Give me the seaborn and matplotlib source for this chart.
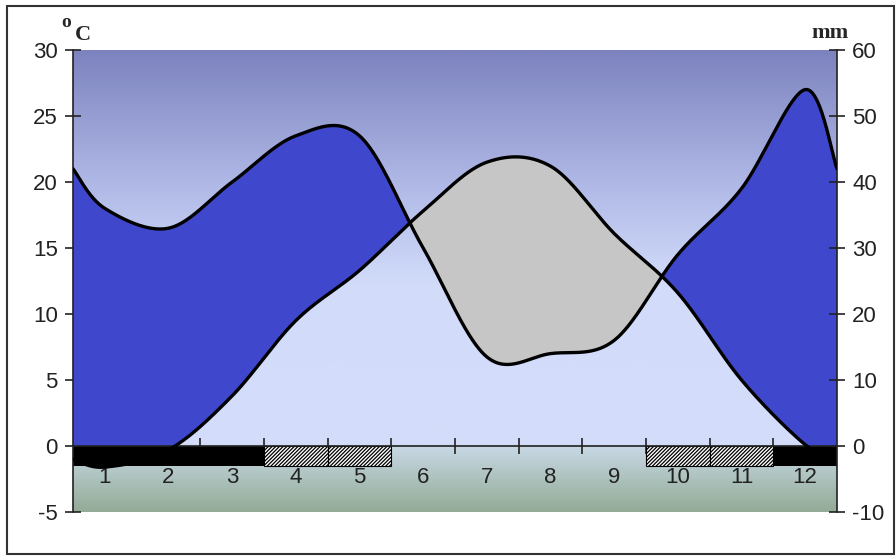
import numpy as np
import pandas as pd
import seaborn as sns
import matplotlib.pyplot as plt
from matplotlib.colors import LinearSegmentedColormap
from matplotlib.patches import Rectangle

# monthly climate values
months = list(range(1, 13))
temp_c = [-1.6, -0.3, 3.8, 9.5, 13.3, 17.8, 21.5, 21.2, 16.1, 11.6, 5.0, 0.1]
precip_mm = [36, 33, 40, 47, 47, 30, 13.5, 14, 16, 29, 39, 54]
# where the curves meet the left/right frame (month 0.5 / 12.5)
edge_temp_c = -1.0
edge_precip_mm = 42
# frost bar per month: 'sure' = black, 'likely' = hatched, '' = none
frost = ['sure', 'sure', 'sure', 'likely', 'likely', '', '', '', '', 'likely', 'likely', 'sure']
frost_depth = -1.5

temp_ticks = list(range(-5, 31, 5))
precip_ticks = list(range(-10, 61, 10))


def smooth(xs, ys, n=60):
    # catmull-rom style smoothing, like excel's smoothed line
    pts = np.column_stack([xs, ys]).astype(float)
    p = np.vstack([pts[0], pts, pts[-1]])
    t = np.linspace(0, 1, n, endpoint=False)[:, None]
    h00 = 2 * t**3 - 3 * t**2 + 1
    h10 = t**3 - 2 * t**2 + t
    h01 = -2 * t**3 + 3 * t**2
    h11 = t**3 - t**2
    out = []
    for i in range(1, len(p) - 2):
        p0, p1, p2, p3 = p[i - 1], p[i], p[i + 1], p[i + 2]
        out.append(h00 * p1 + h10 * (p2 - p0) / 2 + h01 * p2 + h11 * (p3 - p1) / 2)
    out.append(p[-2][None, :])
    return np.vstack(out)


xs = [0.5] + months + [12.5]
t_curve = smooth(xs, [edge_temp_c] + temp_c + [edge_temp_c])
p_curve = smooth(xs, [edge_precip_mm] + precip_mm + [edge_precip_mm])

grid = np.linspace(0.5, 12.5, 2000)
df = pd.DataFrame({
    'x': grid,
    'temp': np.interp(grid, t_curve[:, 0], t_curve[:, 1]),
    'precip': np.interp(grid, p_curve[:, 0], p_curve[:, 1]),
})
df['precip_half'] = df['precip'] / 2  # 10 mm = 5 degC

sns.set_style('white')
plt.rcParams['font.family'] = ['Liberation Sans', 'DejaVu Sans']
plt.rcParams['axes.unicode_minus'] = False
plt.rcParams['hatch.linewidth'] = 0.9
plt.rcParams['hatch.color'] = '#333333'

fig = plt.figure(figsize=(8.96, 5.56), dpi=100)
ax = fig.add_axes([73 / 896, 1 - 512 / 556, (837 - 73) / 896, (512 - 50) / 556])

# background gradient (sky above 0, ground below)
bg = LinearSegmentedColormap.from_list('bg', [
    (0.0, '#93ab97'),
    (0.1428, '#c9d9e6'),
    (0.1429, '#d4dcfa'),
    (0.49, '#d2dcfa'),
    (0.71, '#b0b9e6'),
    (1.0, '#7c83bf'),
])
yy = np.linspace(30, -5, 700)[:, None]
ax.imshow(yy, cmap=bg, vmin=-5, vmax=30, extent=[0.5, 12.5, -5, 30],
          aspect='auto', origin='upper', zorder=0)

# humid and arid periods
ax.fill_between(df['x'], df['temp'], df['precip_half'], where=df['precip_half'] >= df['temp'],
                color='#3f48cc', interpolate=True, lw=0, zorder=1.5)
ax.fill_between(df['x'], df['temp'], df['precip_half'], where=df['precip_half'] < df['temp'],
                color='#c6c6c6', interpolate=True, lw=0, zorder=1.5)

# frost bars
sure = [m for m, f in zip(months, frost) if f == 'sure']
likely = [m for m, f in zip(months, frost) if f == 'likely']
ax.bar(sure, [frost_depth] * len(sure), width=1.0, color='black', lw=0, zorder=2.2)
ax.bar(likely, [frost_depth] * len(likely), width=1.0, color='white', edgecolor='black',
       hatch='/////////', lw=0.8, zorder=2.2)

sns.lineplot(data=df, x='x', y='temp', ax=ax, color='black', lw=2.4, sort=False, zorder=3)

ax.set_xlim(0.5, 12.5)
ax.set_ylim(-5, 30)
ax.set_yticks(temp_ticks)
ax.set_xticks(months)
ax.set_xticks(np.arange(1.5, 12, 1), minor=True)
ax.set_xlabel('')
ax.set_ylabel('')
ax.spines['bottom'].set_position(('data', 0))
for s in ['top', 'right']:
    ax.spines[s].set_visible(False)
for s in ['left', 'bottom']:
    ax.spines[s].set_color('#222222')
    ax.spines[s].set_linewidth(1.2)
ax.tick_params(axis='y', direction='inout', length=12, width=1.2, pad=5, labelsize=16,
               colors='#222222', left=True)
ax.tick_params(axis='x', which='major', length=0, pad=15, labelsize=16, colors='#222222')
ax.tick_params(axis='x', which='minor', direction='inout', length=12, width=1.2,
               color='#222222', bottom=True)

# precipitation on the right axis
ax2 = ax.twinx()
sns.lineplot(data=df, x='x', y='precip', ax=ax2, color='black', lw=2.4, sort=False, zorder=3)
ax2.set_ylim(-10, 60)
ax2.set_yticks(precip_ticks)
ax2.set_ylabel('')
for s in ['top', 'bottom', 'left']:
    ax2.spines[s].set_visible(False)
ax2.spines['right'].set_color('#222222')
ax2.spines['right'].set_linewidth(1.2)
ax2.tick_params(axis='y', direction='inout', length=12, width=1.2, pad=5, labelsize=16,
                colors='#222222', right=True)

# unit labels
fig.text(61 / 896, 1 - 27 / 556, 'o', fontsize=14, fontweight='bold',
         family='Liberation Serif', va='baseline')
fig.text(75 / 896, 1 - 40 / 556, 'C', fontsize=16, fontweight='bold',
         family='Liberation Serif', va='baseline')
fig.text(811 / 896, 1 - 38 / 556, 'mm', fontsize=16, fontweight='bold',
         family='Liberation Serif', va='baseline')

# outer frame
fig.add_artist(Rectangle((7 / 896, 2 / 556), 887 / 896, 548 / 556, transform=fig.transFigure,
                         fill=False, ec='#333333', lw=1.5))

fig.savefig('out.png', dpi=100)
